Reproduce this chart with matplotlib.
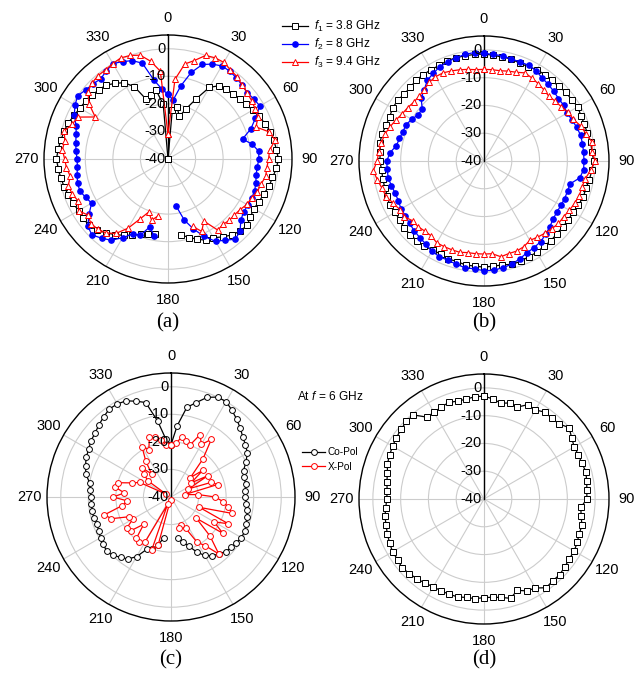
import numpy as np
import matplotlib
matplotlib.use('Agg')
import matplotlib.pyplot as plt
from matplotlib.lines import Line2D
import matplotlib.transforms as mtransforms

plt.rcParams['font.family'] = ['Liberation Sans', 'DejaVu Sans']
plt.rcParams['mathtext.fontset'] = 'custom'
plt.rcParams['mathtext.it'] = 'Liberation Sans:italic'
plt.rcParams['mathtext.rm'] = 'Liberation Sans'

nan = np.nan
angles_deg = np.arange(0, 360, 5)
theta_tick_labels = ['0', '30', '60', '90', '120', '150', '180', '210', '240', '270', '300', '330']
r_ticks = [-40, -30, -20, -10, 0]

# ---- panel (a) ----
a_f1 = [-40, -22, -21, -24, -20.5, -16, -10, -7.5, -7, -6.5, -6, -5.5,
        -4.5, -3.5, -2.5, -1.5, -1, -0.5, 0, -0.5, -1.5, -2, -3, -3.5,
        -4, -3.5, -2.5, -3, -4, -5.5, -7, -7.5, -9, -10.5, -12, nan,
        nan, nan, -12.5, -12, -11, -9.5, -8, -6.5, -5, -3.5, -2.5, -2.5,
        -2.5, -2, -1.5, -1, -0.5, 0, 0.5, 0, -0.5, -1, -1.5, -2.5,
        -3, -3.5, -4, -4.5, -5, -6.5, -8, -11, -17, -16, -14.5, -20]
a_f2 = [-16.5, -18.5, -13, -7.5, -3.5, -2, -1, -1, -1.5, -2, -2.5, -2,
        -1.5, -5, -8, -12, -9, -7, -7, -7.5, -7.5, -7, -6.5, -6.5,
        -6.5, -6.5, -5.5, -3, -2, -4, -5.5, -9, -13, -17, -22.5, nan,
        nan, nan, -11.5, -14.5, -10.5, -10, -7, -4, -2.5, -1, -2, -5,
        -8, -7, -6, -6, -6.5, -7, -7, -6.5, -6, -5.5, -4.5, -2.5,
        -1, 0, -1, -1.5, -2, -1, 0, -1, -2, -4, -11, -14.5]
a_f3 = [-31, -11, -5, -3, 0, 0.5, 0.5, -0.5, -1, -2, -2.5, -3,
        -3.5, -4, -6, -2, -0.5, -3, -3.5, -4, -4, -5, -5.5, -6.5,
        -7, -8, -8.5, -8.5, -9, -8.5, -14, -11, -14, nan, nan, nan,
        nan, nan, -19, -17, -19.5, -16, -11, -7, -5, -4, -3.5, -4.5,
        -2.5, -4, -3, -2.5, -4, -3, -2.5, -1.5, -2, -1, -3, -4,
        -9.5, -5, -2, -1, -0.5, -0.5, 0, 0.5, 0, -1, -4, -8]

# ---- panel (b) ----
b_f1 = [-1.5, -1.8, -2, -2, -2.5, -2.5, -2, -2, -2, -2, -1.5, -1.5,
        -1, -1.5, -1.5, -1.5, -1, -1, -0.5, -1, -1.5, -2, -2, -2.5,
        -3, -3, -3, -3, -2.5, -2.5, -2, -2, -1.5, -1.5, -2, -2,
        -1.8, -2, -2, -2.5, -2.5, -3, -3, -2.5, -2.5, -2.5, -2.5, -3,
        -3, -2.5, -3, -3, -3, -3, -2.5, -2.5, -2, -2, -2.5, -2.5,
        -2, -2, -2.5, -2.5, -2, -2, -2, -2, -1.5, -1.5, -1.5, -1.5]
b_f2 = [-1.2, -1.5, -1.5, -2, -2, -2, -2.5, -3.5, -4, -4.5, -5, -5,
        -5.5, -5, -4.5, -4, -4, -4, -4, -4, -5, -8, -8, -8,
        -8, -8, -7.5, -6.5, -5.5, -4.5, -4, -3.5, -2.5, -1.5, -1, -0.5,
        -0.5, -1, -1, -1.5, -2, -2, -2.5, -3.5, -4, -4.5, -5, -5.5,
        -5.5, -6, -6, -5.5, -5, -5, -5, -6, -8, -8.5, -9, -9,
        -10, -11, -11, -8, -6.5, -4.5, -3.5, -2.5, -2, -1.5, -1, -0.8]
b_f3 = [-7, -7, -7, -6.5, -6, -5, -5.5, -6, -6.5, -7, -6.5, -6,
        -5, -4.5, -3, -2, -0.5, -1, 0, -1.5, -3, -3.5, -3.5, -4,
        -4.5, -5, -5, -5.5, -6, -6.5, -7, -6, -5.5, -5.5, -5, -6.5,
        -6.5, -6.5, -6.5, -6, -6, -6, -6, -7, -7, -6.5, -6.5, -5,
        -5, -4, -2.5, -2, -1, 0, -1.5, -2, -2.5, -3, -4, -5,
        -6, -6.5, -7, -7, -6.5, -5.5, -5, -5, -5.5, -6, -6.5, -7]

# ---- panel (c) ----
c_copol = [-21, -14, -7, -4.5, -1.5, 0, 0, -1.5, -3, -4.5, -6, -7,
           -8, -10, -12, -12.5, -12.5, -13, -13, -12.5, -12, -11.5, -11, -10.5,
           -10.5, -11, -11.5, -12, -13, -14, -15.5, -18, -21, -23, -25, nan,
           nan, nan, -25, -22, -20, -19, -15, -12.5, -11.5, -10, -9.5, -10,
           -10.5, -11, -11.5, -11, -11, -11, -11, -10.5, -10, -8, -7, -6,
           -5.5, -4.5, -4, -3, -2, -1, -1, -1.5, -3, -4.5, -12, -19]
c_xpol = [-21, -20.5, -18, -19, -20, -15, -18, -14.5, -22, -30, -25, -31,
          -24.5, -33, -24.5, -22.5, -35, -30, -24, -21, -19, -17, -29, -17,
          -22, -17, -28, -20, -13, -18.5, -21, -27.5, -29, -28.5, nan, nan,
          nan, nan, -39, -22, -19.5, -37, -21, -20, -20.5, -26, -21, -20.5,
          -24, -23, -17, -15, -22, -24, -19, -23, -19.5, -20, -25, -27.5,
          -38, -30, -27, -25, -29, -24, -19, -21, -17, -17.5, -19, -21]

# ---- panel (d) ----
d_copol = [-3, -3.8, -5, -4.2, -4.8, -2.5, -3, -1.8, -2, -1.8, 0, -1.5,
           -2.5, -2.5, -2.5, -2, -2.5, -2.8, -3, -5, -4.5, -3.5, -3.5, -3,
           -2.5, -2.5, -2, -1.5, -1.5, -1, -3, -3.5, -5, -3, -4, -4.5,
           -4.5, -4, -4, -3.5, -3.5, -3.5, -3.5, -3, -2.5, -2, -1.5, -2,
           -2, -2.5, -3, -3.5, -3.8, -4.5, -5, -5, -4.5, -4, -3, -2.5,
           -2, -1.5, -1, -0.5, -0.5, -4, -4, -3.5, -3, -3.5, -3.5, -3]

legend_a = ['$f_1$ = 3.8 GHz', '$f_2$ = 8 GHz', '$f_3$ = 9.4 GHz']
legend_c = ['Co-Pol', 'X-Pol']
captions = ['(a)', '(b)', '(c)', '(d)']

W, H = 644, 673
fig = plt.figure(figsize=(W / 100, H / 100), dpi=100)


def px_box(cx, cy, r):
    return [(cx - r) / W, 1 - (cy + r) / H, 2 * r / W, 2 * r / H]


def setup(ax):
    ax.set_theta_zero_location('N')
    ax.set_theta_direction(-1)
    ax.set_ylim(-40, 5)
    ax.set_yticks(r_ticks)
    ax.set_yticklabels([])
    ax.set_xticks(np.deg2rad(np.arange(0, 360, 30)))
    ax.set_xticklabels(theta_tick_labels, fontsize=10.5)
    ax.tick_params(axis='x', pad=2)
    ax.grid(True, color='#cccccc', lw=0.8)
    ax.spines['polar'].set_color('black')
    ax.spines['polar'].set_linewidth(1.0)
    ax.plot([0, 0], [-40, 5], color='black', lw=1.0, zorder=2.5, clip_on=False)
    tr = mtransforms.offset_copy(ax.transData, fig=fig, x=-2, y=0, units='points')
    for v in r_ticks:
        ax.text(0, v, str(v), transform=tr, ha='right', va='center', fontsize=10.5, zorder=5)


def closed(vals):
    th = np.deg2rad(np.append(angles_deg, 360))
    v = np.append(np.asarray(vals, float), vals[0])
    return th, v


sq = dict(color='black', marker='s', ms=3.7, mfc='white', mec='black', lw=0.9, mew=0.7)
sqd = dict(color='black', marker='s', ms=4.0, mfc='white', mec='black', lw=0.9, mew=0.7)
bl = dict(color='#0000ff', marker='o', ms=3.8, mfc='#0000ff', mec='#0000ff', lw=0.9)
tri = dict(color='#ff0000', marker='^', ms=4.7, mfc='white', mec='#ff0000', lw=0.9, mew=0.7)
cb = dict(color='black', marker='o', ms=4.2, mfc='white', mec='black', lw=0.9, mew=0.7)
cr = dict(color='#ff0000', marker='o', ms=4.2, mfc='white', mec='#ff0000', lw=0.9, mew=0.7)

# (a)
axa = fig.add_axes(px_box(168, 159, 124), projection='polar')
setup(axa)
axa.plot(*closed(a_f1), **sq, zorder=3)
axa.plot(*closed(a_f2), **bl, zorder=3)
axa.plot(*closed(a_f3), **tri, zorder=3)

# (b)
axb = fig.add_axes(px_box(484, 161, 125), projection='polar')
setup(axb)
axb.plot(*closed(b_f1), **sq, zorder=3)
axb.plot(*closed(b_f2), **bl, zorder=3)
axb.plot(*closed(b_f3), **tri, zorder=3)

# (c)
axc = fig.add_axes(px_box(171, 497, 124), projection='polar')
setup(axc)
axc.plot(*closed(c_copol), **cb, zorder=3)
axc.plot(*closed(c_xpol), **cr, zorder=3)

# (d)
axd = fig.add_axes(px_box(484, 499, 125), projection='polar')
setup(axd)
axd.plot(*closed(d_copol), **sqd, zorder=3)

# legends
ha = [Line2D([], [], **sq), Line2D([], [], **bl), Line2D([], [], **tri)]
fig.legend(ha, legend_a, loc='upper left', bbox_to_anchor=(276 / W, 1 - 13 / H),
           frameon=False, fontsize=8.6, handlelength=2.2, handletextpad=0.45,
           labelspacing=0.25, borderpad=0)
hc = [Line2D([], [], **cb), Line2D([], [], **cr)]
fig.legend(hc, legend_c, loc='upper left', bbox_to_anchor=(297 / W, 1 - 442 / H),
           frameon=False, fontsize=7.3, handlelength=2.3, handletextpad=0.25,
           labelspacing=0.45, borderpad=0)
fig.text(297 / W, 1 - 397 / H, 'At $f$ = 6 GHz', fontsize=8.6, ha='left', va='center')

cap_pos = [(168, 323), (484, 323), (171, 660), (484, 660)]
for (x, y), c in zip(cap_pos, captions):
    fig.text(x / W, 1 - y / H, c, fontsize=15, family=['Liberation Serif', 'DejaVu Serif'],
             ha='center', va='center')

fig.savefig('out.png', dpi=100)
